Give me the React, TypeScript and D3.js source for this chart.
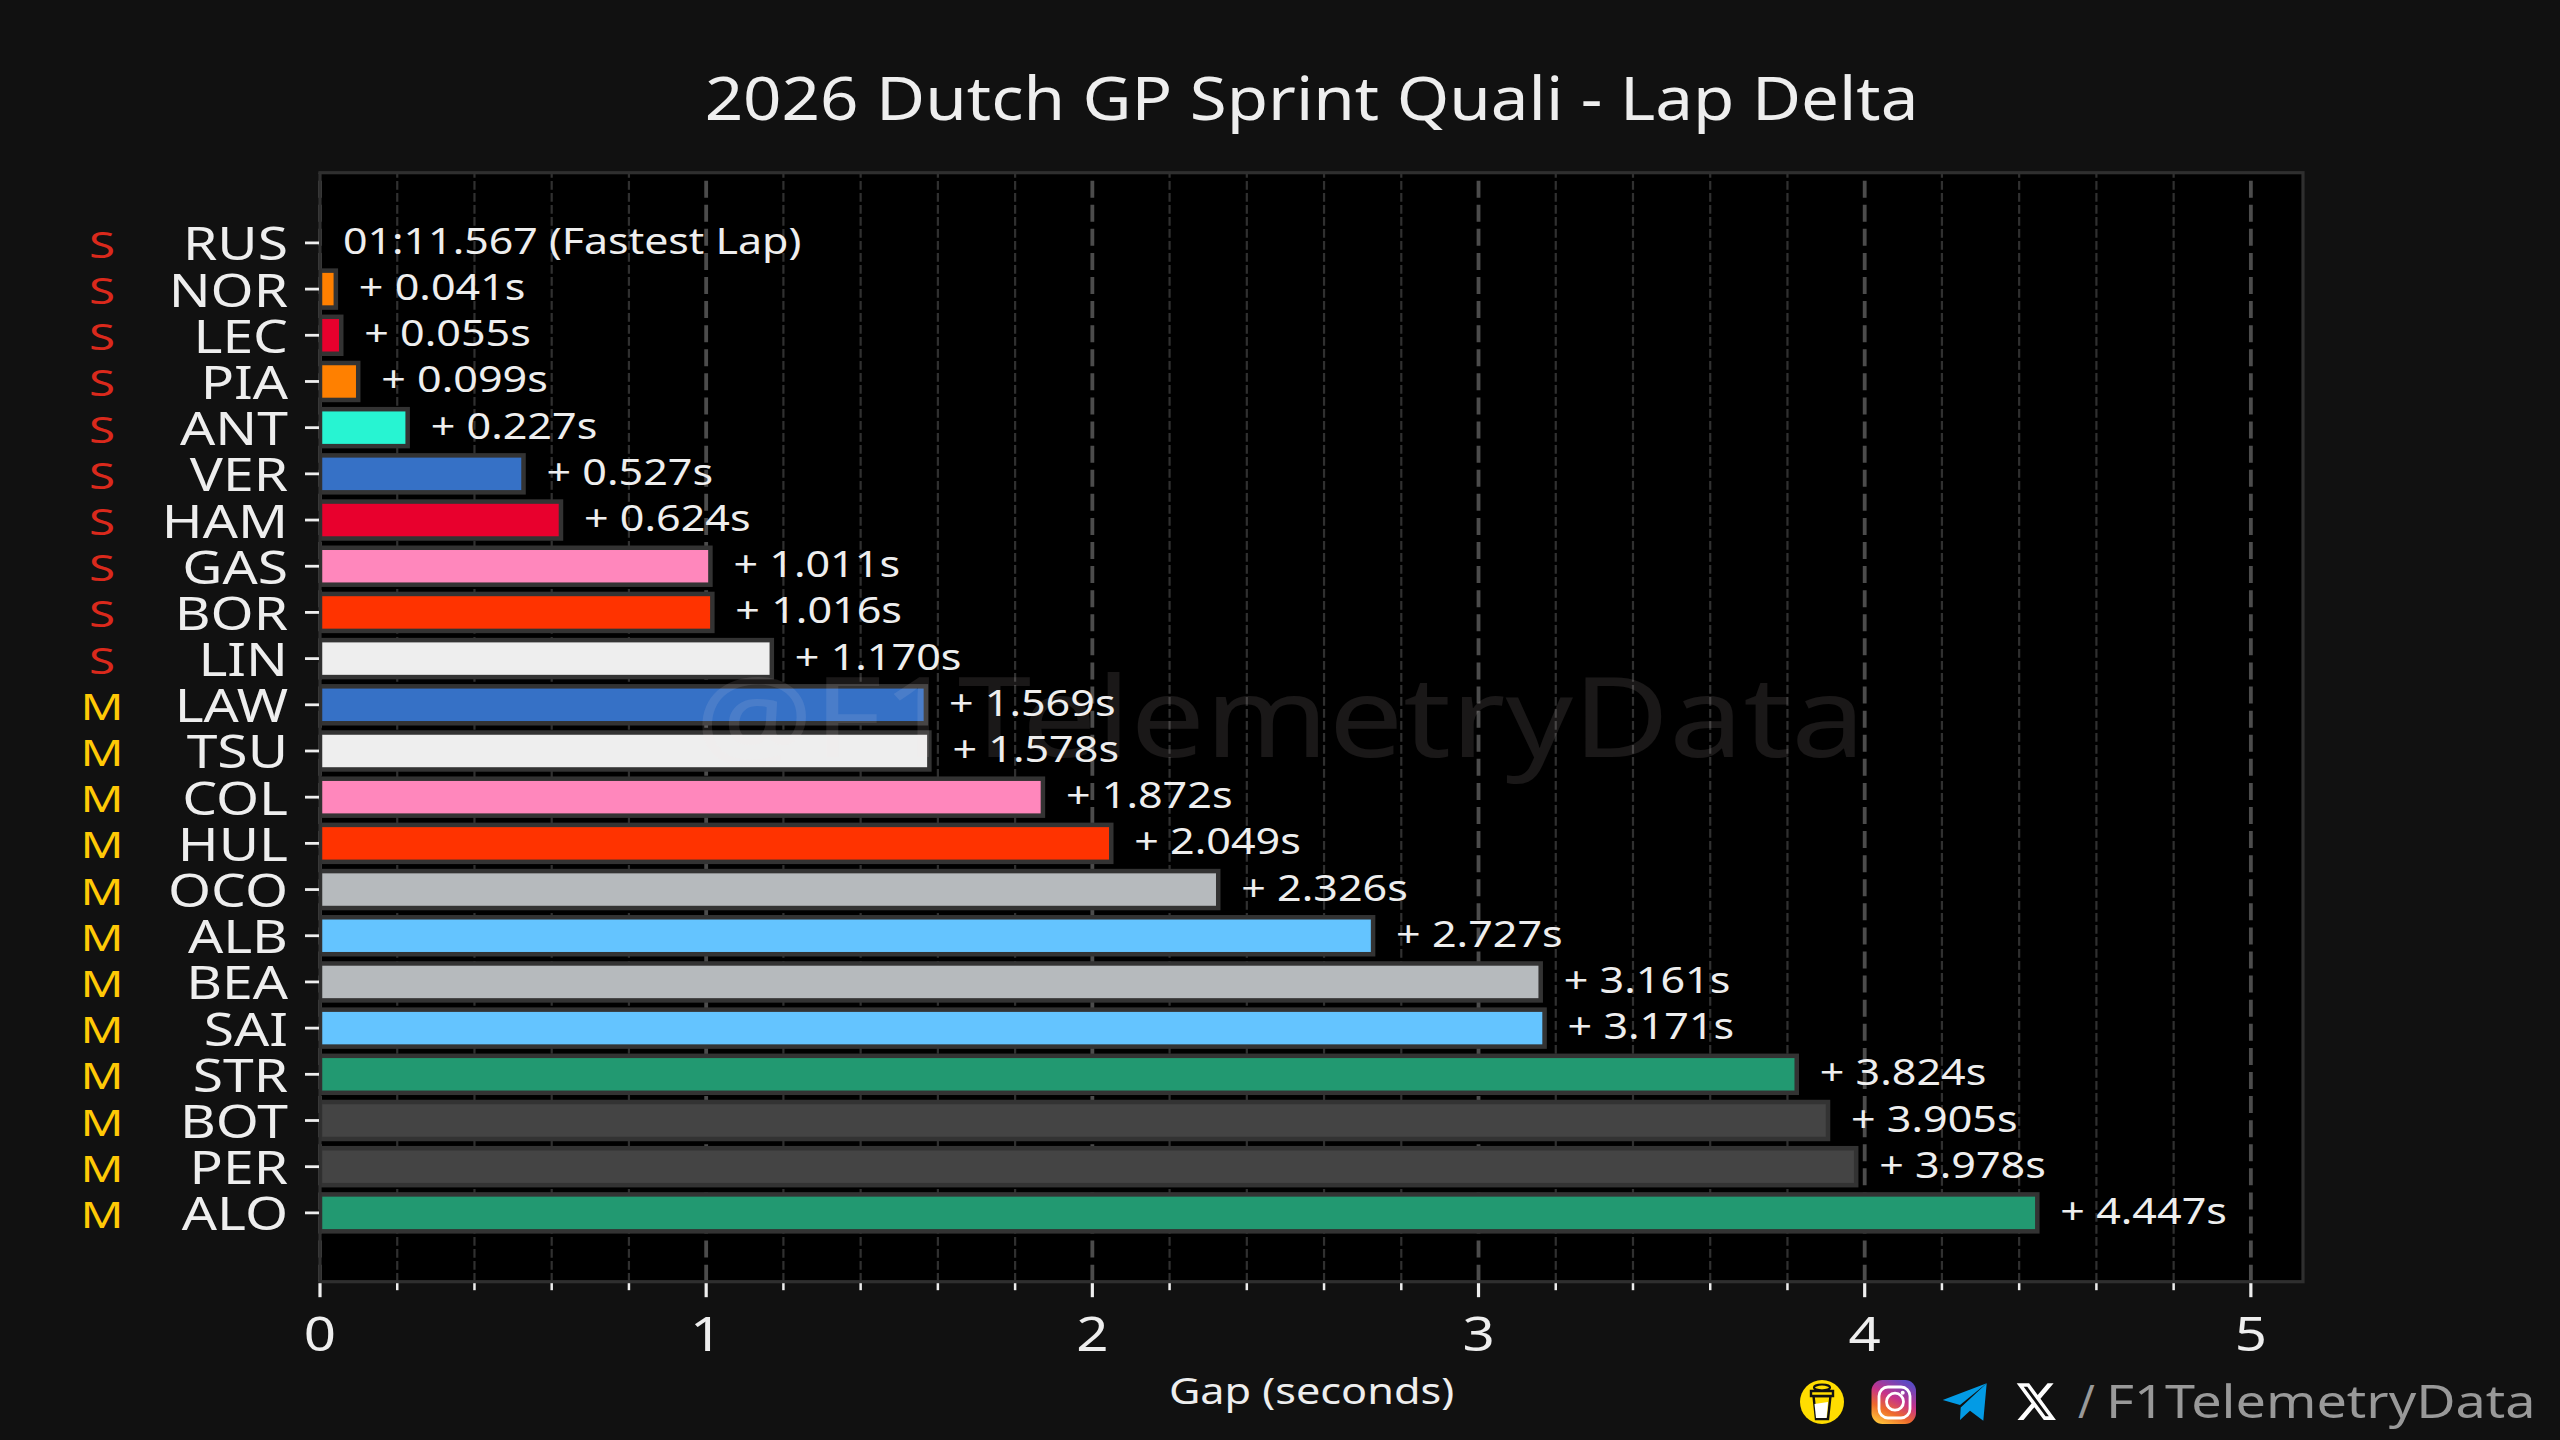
import React from "react";
import * as d3 from "d3";

const drivers = ["RUS","NOR","LEC","PIA","ANT","VER","HAM","GAS","BOR","LIN","LAW","TSU","COL","HUL","OCO","ALB","BEA","SAI","STR","BOT","PER","ALO"];
const gaps = [0,0.041,0.055,0.099,0.227,0.527,0.624,1.011,1.016,1.17,1.569,1.578,1.872,2.049,2.326,2.727,3.161,3.171,3.824,3.905,3.978,4.447];
const teams = ["MER","MCL","FER","MCL","MER","RBR","FER","ALP","SAU","RB","RBR","RB","ALP","SAU","HAA","WIL","HAA","WIL","AST","CAD","CAD","AST"];
const compounds = ["S","S","S","S","S","S","S","S","S","S","M","M","M","M","M","M","M","M","M","M","M","M"];
const fastestLap = "01:11.567 (Fastest Lap)";
const majorTicks = [0,1,2,3,4,5];
const minorTicks = [0.2,0.4,0.6,0.8,1.2,1.4,1.6,1.8,2.2,2.4,2.6,2.8,3.2,3.4,3.6,3.8,4.2,4.4,4.6,4.8];

const teamColors: Record<string,string> = {
  MER: "#27F4D2", MCL: "#FF8000", FER: "#E8002D", RBR: "#3671C6", ALP: "#FF87BC",
  SAU: "#FF3300", RB: "#EEEEEE", HAA: "#B6BABD", WIL: "#64C4FF", AST: "#229971", CAD: "#444444",
};
const compoundColors: Record<string,string> = { S: "#DA291C", M: "#FFC906" };

const font = "'Noto Sans', sans-serif";
const left = 320, right = 2303, top = 172.7, bottom = 1281.7;

const x = d3.scaleLinear().domain([0, 5.135]).range([left, right]);
const y = d3.scaleLinear().domain([-1.52, 22.49]).range([top, bottom]);

// the reference font is a wide one, so every label gets stretched horizontally
const Label = ({ px, py, size, anchor = "start", sx = 1.2, fill = "#EEEEEE", opacity = 1, children }: any) => (
  <text
    transform={`translate(${px},${py}) scale(${sx},1)`}
    fontFamily={font}
    fontSize={size}
    textAnchor={anchor}
    fill={fill}
    fillOpacity={opacity}
  >
    {children}
  </text>
);

const Icons = () => (
  <g>
    <defs>
      <linearGradient id="insta" x1="0.2" y1="1" x2="0.7" y2="0">
        <stop offset="0" stopColor="#FFC33A" />
        <stop offset="0.3" stopColor="#EE6A2C" />
        <stop offset="0.6" stopColor="#C7338A" />
        <stop offset="1" stopColor="#5B4BC4" />
      </linearGradient>
    </defs>
    {/* cup */}
    <ellipse cx={1822} cy={1402} rx={22} ry={22} fill="#FFDD00" />
    <path d="M1813.5 1396 h17 l-2.5 23 h-12 z" fill="#FFDD00" stroke="#111" strokeWidth={2.4} />
    <path d="M1814.5 1404 l13.500 -2 l-1.500 16 h-10.500 z" fill="#fff" />
    <path d="M1811 1391 h22 v5 h-22 z" fill="#FFDD00" stroke="#111" strokeWidth={2.4} />
    <ellipse cx={1822} cy={1387.5} rx={8} ry={3} fill="none" stroke="#111" strokeWidth={2.2} />
    {/* instagram */}
    <rect x={1871.500} y={1380} width={44.500} height={44} rx={11} fill="url(#insta)" />
    <rect x={1879} y={1387} width={31} height={31} rx={9} fill="none" stroke="#fff" strokeWidth={2.8} />
    <circle cx={1895} cy={1401.7} r={8.500} fill="none" stroke="#fff" strokeWidth={2.8} />
    <circle cx={1902.7} cy={1392.7} r={2} fill="#fff" />
    {/* telegram */}
    <path d="M1942.700 1400 L1986.700 1383.300 L1960 1405 Z" fill="#039BE5" />
    <path d="M1986.700 1383.300 L1983.300 1420.700 L1970 1410.700 L1960 1420 L1960.700 1407.500 Z" fill="#039BE5" />
    {/* x */}
    <path
      transform="translate(2014.4,1379.1) scale(1.82,1.88)"
      d="M18.244 2.25h3.308l-7.227 8.26 8.502 11.24H16.17l-5.214-6.817L4.99 21.75H1.68l7.73-8.835L1.254 2.25H8.08l4.713 6.231zm-1.161 17.52h1.833L7.084 4.126H5.117z"
      fill="#fff"
    />
  </g>
);

export default function App() {
  const barHeight = y(0.8) - y(0);

  return (
    <svg
      width={2560}
      height={1440}
      viewBox="0 0 2560 1440"
      style={{ position: "fixed", left: 0, top: 0, display: "block" }}
    >
      <defs>
        <clipPath id="plotArea">
          <rect x={left} y={top} width={right - left} height={bottom - top} />
        </clipPath>
      </defs>
      <rect width={2560} height={1440} fill="#111111" />
      <rect x={left} y={top} width={right - left} height={bottom - top} fill="#000000" />

      {/* grid, dashes start at the bottom of the axes */}
      {minorTicks.map((t) => (
        <line key={t} x1={x(t)} x2={x(t)} y1={bottom} y2={top} stroke="#303030" strokeWidth={2.2} strokeDasharray="8.7 3.3" />
      ))}
      {majorTicks.map((t) => (
        <line key={t} x1={x(t)} x2={x(t)} y1={bottom} y2={top} stroke="#4C4C4C" strokeWidth={3.8} strokeDasharray="17 7.09" />
      ))}

      {/* bars */}
      <g clipPath="url(#plotArea)">
        {drivers.map((d, i) => (
          <rect
            key={d}
            x={x(0)}
            y={y(i) - barHeight / 2}
            width={x(gaps[i]) - x(0)}
            height={barHeight}
            fill={teamColors[teams[i]]}
            stroke="#333333"
            strokeWidth={4.5}
          />
        ))}
      </g>

      {/* watermark */}
      <Label px={1280} py={757} size={112} anchor="middle" fill="#FFEFEF" opacity={0.1} sx={1.18}>
        @F1TelemetryData
      </Label>

      {/* spines */}
      <rect x={left} y={top} width={right - left} height={bottom - top} fill="none" stroke="#2F2F2F" strokeWidth={3.2} />

      {/* y axis */}
      {drivers.map((d, i) => (
        <g key={d}>
          <line x1={305} x2={319} y1={y(i)} y2={y(i)} stroke="#EEEEEE" strokeWidth={2.8} />
          <Label px={288} py={y(i) + 17.5} size={46} anchor="end">{d}</Label>
          <Label px={102} py={y(i) + 15} size={36.5} anchor="middle" sx={1.3} fill={compoundColors[compounds[i]]}>{compounds[i]}</Label>
          {i === 0 ? (
            <Label px={x(0) + 23} py={y(i) + 11} size={37} sx={1.16}>{fastestLap}</Label>
          ) : (
            <Label px={x(gaps[i]) + 23} py={y(i) + 11} size={37} sx={1.165}>{`+ ${gaps[i].toFixed(3)}s`}</Label>
          )}
        </g>
      ))}

      {/* x axis */}
      {majorTicks.map((t) => (
        <g key={t}>
          <line x1={x(t)} x2={x(t)} y1={bottom + 1.5} y2={bottom + 15.5} stroke="#EEEEEE" strokeWidth={3.2} />
          <Label px={x(t)} py={1351} size={47} anchor="middle">{t}</Label>
        </g>
      ))}
      {minorTicks.map((t) => (
        <line key={t} x1={x(t)} x2={x(t)} y1={bottom + 1.5} y2={bottom + 8.5} stroke="#EEEEEE" strokeWidth={2.5} />
      ))}

      <Label px={1311.5} py={1404} size={36} anchor="middle">Gap (seconds)</Label>
      <Label px={1311.5} py={119.5} size={60} anchor="middle" sx={1.122}>2026 Dutch GP Sprint Quali - Lap Delta</Label>

      <Icons />
      <Label px={2078} py={1418} size={45} fill="#999999" sx={1}>/</Label>
      <Label px={2106} py={1418} size={45} fill="#999999">F1TelemetryData</Label>
    </svg>
  );
}
